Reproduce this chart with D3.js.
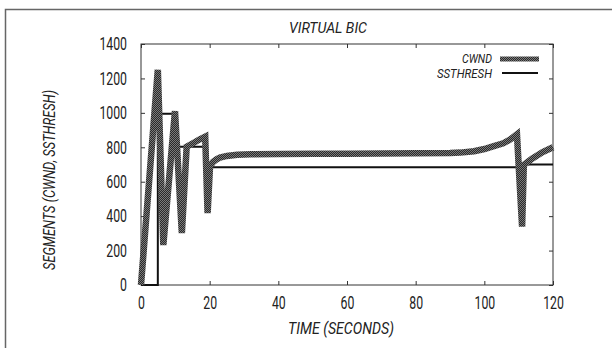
<!DOCTYPE html>
<html>
<head>
<meta charset="utf-8">
<script src="https://cdn.jsdelivr.net/npm/d3@7"></script>
<style>
  body { margin: 0; background: #fff; }
  text { font-family: Roboto, "DejaVu Sans Condensed", sans-serif; font-weight: 400; fill: #222; }
</style>
</head>
<body>
<div id="chart"></div>
<script>
// data
var cwndTime = [0, 4.9, 6.5, 9.9, 11.9, 13.3, 15, 17, 18.7, 19.4, 20.1, 21, 22, 23, 25, 28, 32, 40, 50, 60, 70, 80, 90, 93, 97, 100, 103, 105.5, 107.5, 109.5, 111, 111.5, 114, 117, 120];
var cwnd = [0, 1250, 232, 1010, 302, 803, 822, 845, 862, 418, 690, 715, 730, 740, 750, 756, 759, 761, 762, 763, 764, 765, 767, 769, 777, 790, 808, 823, 845, 875, 339, 697, 735, 772, 800];

var ssTime = [0, 4.9, 4.9, 9.9, 9.9, 18.7, 18.7, 110, 110, 120];
var ssthresh = [0, 0, 995, 995, 803, 803, 684, 684, 700, 700];

var xTicks = [0, 20, 40, 60, 80, 100, 120];
var yTicks = [0, 200, 400, 600, 800, 1000, 1200, 1400];

var svgWidth = 612, svgHeight = 348;
var margin = {top: 44, right: 59, bottom: 63, left: 141};
var width = svgWidth - margin.left - margin.right;
var height = svgHeight - margin.top - margin.bottom;

var svg = d3.select("#chart").append("svg")
    .attr("width", svgWidth).attr("height", svgHeight);

// texture for the thick cwnd line
var defs = svg.append("defs");
var pat = defs.append("pattern").attr("id", "hatch")
    .attr("patternUnits", "userSpaceOnUse").attr("width", 2).attr("height", 2);
pat.append("rect").attr("width", 2).attr("height", 2).attr("fill", "#7a7a7a");
pat.append("rect").attr("width", 1).attr("height", 1).attr("fill", "#2a2a2a");
pat.append("rect").attr("x", 1).attr("y", 1).attr("width", 1).attr("height", 1).attr("fill", "#2a2a2a");

// outer frame (left and top only visible)
svg.append("path")
    .attr("d", "M5.5,348 L5.5,9.5 L612,9.5")
    .attr("fill", "none").attr("stroke", "#666").attr("stroke-width", 1.5);

var chartGroup = svg.append("g").attr("transform", `translate(${margin.left}, ${margin.top})`);

var x = d3.scaleLinear().domain([0, 120]).range([0, width]);
var y = d3.scaleLinear().domain([0, 1400]).range([height, 0]);

// axes with inward ticks on all sides
var fmt = d3.format("d");
var bottomAxis = d3.axisBottom(x).tickValues(xTicks).tickFormat(fmt).tickSize(-4).tickPadding(11);
var leftAxis = d3.axisLeft(y).tickValues(yTicks).tickFormat(fmt).tickSize(-4).tickPadding(14);
var topAxis = d3.axisTop(x).tickValues(xTicks).tickSize(-4).tickFormat("");
var rightAxis = d3.axisRight(y).tickValues(yTicks).tickSize(-4).tickFormat("");

// squeeze glyphs so the labels look like the narrow font of the original
function narrow(sel, perChar) {
    sel.each(function() {
        var t = d3.select(this);
        t.attr("textLength", t.text().length * perChar).attr("lengthAdjust", "spacingAndGlyphs");
    });
}

function styleAxis(g) {
    g.select(".domain").remove();
    g.selectAll("line").attr("stroke", "#333");
    g.selectAll("text").style("font-size", "18px").attr("fill", "#222").call(narrow, 6.9);
}

chartGroup.append("g").attr("transform", `translate(0, ${height})`).call(bottomAxis).call(styleAxis);
chartGroup.append("g").call(leftAxis).call(styleAxis);
chartGroup.append("g").call(topAxis).call(styleAxis);
chartGroup.append("g").attr("transform", `translate(${width}, 0)`).call(rightAxis).call(styleAxis);

chartGroup.append("rect")
    .attr("width", width).attr("height", height)
    .attr("fill", "none").attr("stroke", "#333").attr("stroke-width", 1);

// lines
var cwndLine = d3.line().x(function(d, i) { return x(cwndTime[i]); }).y(function(d) { return y(d); });
var ssLine = d3.line().x(function(d, i) { return x(ssTime[i]); }).y(function(d) { return y(d); });

chartGroup.append("path").datum(ssthresh)
    .attr("d", ssLine).attr("fill", "none")
    .attr("stroke", "#111").attr("stroke-width", 2);

chartGroup.append("path").datum(cwnd)
    .attr("d", cwndLine).attr("fill", "none")
    .attr("stroke", "url(#hatch)").attr("stroke-width", 6.5)
    .attr("stroke-linejoin", "miter").attr("stroke-miterlimit", 4);

// legend
var legend = svg.append("g");
legend.append("text").attr("x", 492).attr("y", 63).attr("text-anchor", "end")
    .style("font-style", "italic").style("font-size", "13px")
    .attr("textLength", 30).attr("lengthAdjust", "spacingAndGlyphs").text("CWND");
legend.append("line").attr("x1", 500).attr("x2", 539).attr("y1", 59).attr("y2", 59)
    .attr("stroke", "url(#hatch)").attr("stroke-width", 5);
legend.append("text").attr("x", 492).attr("y", 78).attr("text-anchor", "end")
    .style("font-style", "italic").style("font-size", "13px")
    .attr("textLength", 55).attr("lengthAdjust", "spacingAndGlyphs").text("SSTHRESH");
legend.append("line").attr("x1", 502).attr("x2", 538).attr("y1", 73).attr("y2", 73)
    .attr("stroke", "#111").attr("stroke-width", 2);

// titles
svg.append("text").attr("x", 328).attr("y", 33).attr("text-anchor", "middle")
    .style("font-style", "italic").style("font-size", "15px")
    .attr("textLength", 78).attr("lengthAdjust", "spacingAndGlyphs").text("VIRTUAL BIC");

svg.append("text").attr("x", 341).attr("y", 334).attr("text-anchor", "middle")
    .style("font-style", "italic").style("font-size", "17px")
    .attr("textLength", 106).attr("lengthAdjust", "spacingAndGlyphs").text("TIME (SECONDS)");

svg.append("text").attr("transform", "translate(55, 180) rotate(-90)").attr("text-anchor", "middle")
    .style("font-style", "italic").style("font-size", "17px")
    .attr("textLength", 180).attr("lengthAdjust", "spacingAndGlyphs").text("SEGMENTS (CWND, SSTHRESH)");
</script>
</body>
</html>
